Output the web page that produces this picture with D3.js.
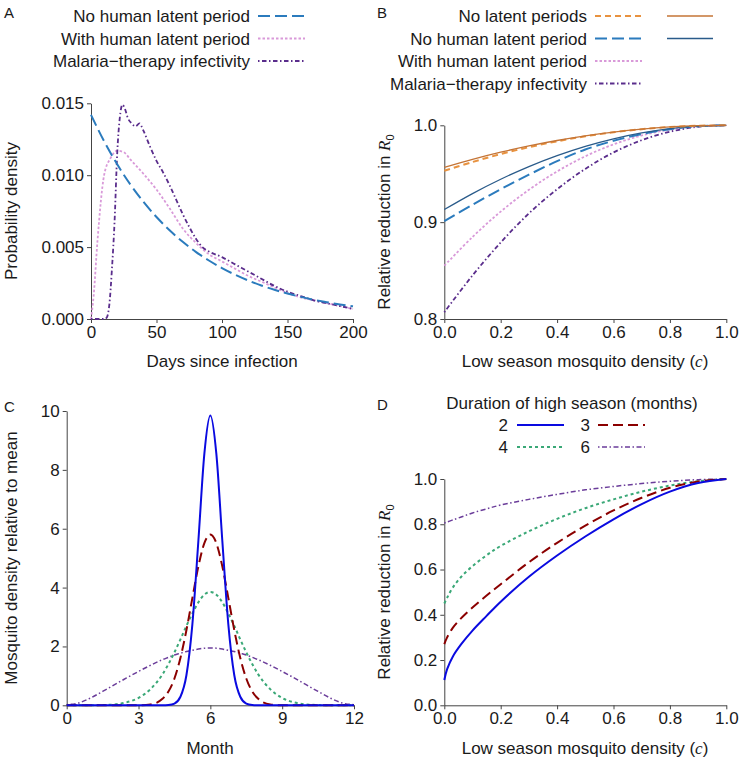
<!DOCTYPE html>
<html><head><meta charset="utf-8">
<script src="https://cdn.jsdelivr.net/npm/d3@7"></script>
<style>
body{margin:0;background:#fff}
svg{display:block}
text{font-family:"Liberation Sans",Arial,Helvetica,sans-serif;fill:#1a1a1a}
</style>
</head><body>
<svg id="chart" width="742" height="763"></svg>
<script>
// ---------- Panel A data ----------
const daysTicks = [0, 50, 100, 150, 200];
const densTicks = [0, 0.005, 0.010, 0.015];
const noLatDays = [0,10,20,30,40,50,60,70,80,90,100,110,120,130,140,150,160,170,180,190,200];
const noLatDens = [0.01420,0.01236,0.01076,0.00936,0.00815,0.00709,0.00617,0.00537,0.00467,0.00407,0.00354,0.00308,0.00268,0.00233,0.00203,0.00177,0.00154,0.00134,0.00117,0.00101,0.00088];
const withLatDays = [0,2,5,10,15,20,25,30,40,50,60,70,80,90,100,110,120,130,140,150,160,170,180,190,200];
const withLatDens = [0,0.0016,0.0055,0.0100,0.0112,0.0117,0.0116,0.0111,0.0101,0.0090,0.0077,0.0063,0.0053,0.0045,0.0040,0.0035,0.0030,0.0026,0.0022,0.0018,0.0015,0.0013,0.0011,0.0009,0.0007];
const malDays = [0,10,12,14,16,18,20,22,24,26,28,31,34,37,40,45,50,55,60,65,70,75,80,85,90,100,110,120,130,140,150,160,170,180,190,200];
const malDens = [0,0,0.0001,0.0010,0.0035,0.0068,0.0115,0.0140,0.0149,0.0146,0.0140,0.0136,0.0134,0.0136,0.0131,0.0120,0.0110,0.0102,0.0093,0.0083,0.0073,0.0064,0.0056,0.0050,0.0047,0.0043,0.0038,0.0033,0.0028,0.0023,0.0019,0.0016,0.0013,0.0011,0.0009,0.0007];

// ---------- Panel B data ----------
const cGrid = [0,0.1,0.2,0.3,0.4,0.5,0.6,0.7,0.8,0.9,1.0];
const cTicks = [0,0.2,0.4,0.6,0.8,1.0];
const bTicksY = [0.8,0.9,1.0];
const bNoLatDashed = [0.953,0.9621,0.9703,0.9774,0.9835,0.9886,0.9928,0.9960,0.9983,0.9996,1];
const bNoLatSolid  = [0.9565,0.9648,0.9722,0.9787,0.9843,0.9891,0.9930,0.9961,0.9983,0.9996,1];
const bNoHumDashed = [0.901,0.918,0.934,0.949,0.963,0.975,0.984,0.991,0.996,0.999,1];
const bNoHumSolid  = [0.913,0.9295,0.9443,0.9574,0.9687,0.9783,0.9861,0.9922,0.9965,0.9991,1];
const bWithLat     = [0.855,0.8847,0.9109,0.9334,0.9524,0.968,0.9803,0.9895,0.9957,0.999,1];
const bMalaria     = [0.807,0.845,0.879,0.909,0.934,0.955,0.972,0.9846,0.9934,0.9985,1];

// ---------- Panel C data ----------
const monthTicks = [0,3,6,9,12];
const mosqTicks = [0,2,4,6,8,10];
const months = [0,0.5,1,1.5,2,2.5,3,3.5,4,4.25,4.5,4.75,5,5.25,5.5,5.75,6,6.25,6.5,6.75,7,7.25,7.5,7.75,8,8.5,9,9.5,10,10.5,11,11.5,12];
const dens2 = [0,0,0,0,0,0,0,0,0,0.01,0.06,0.29,1.02,2.76,5.59,8.55,9.85,8.55,5.59,2.76,1.02,0.29,0.06,0.01,0,0,0,0,0,0,0,0,0];
const dens3 = [0,0,0,0,0,0,0,0.03,0.22,0.47,0.91,1.61,2.55,3.65,4.72,5.51,5.8,5.51,4.72,3.65,2.55,1.61,0.91,0.47,0.22,0.03,0,0,0,0,0,0,0];
const dens4 = [0,0,0,0.01,0.03,0.1,0.25,0.55,1.05,1.4,1.8,2.24,2.7,3.12,3.5,3.76,3.85,3.76,3.5,3.12,2.7,2.24,1.8,1.4,1.05,0.55,0.25,0.1,0.03,0.01,0,0,0];
const dens6 = [0.02,0.08,0.25,0.47,0.7,0.93,1.15,1.36,1.55,1.63,1.71,1.77,1.83,1.87,1.91,1.94,1.95,1.94,1.91,1.87,1.83,1.77,1.71,1.63,1.55,1.36,1.15,0.93,0.7,0.47,0.25,0.08,0.02];

// ---------- Panel D data ----------
const dGrid = [0,0.01,0.03,0.06,0.1,0.15,0.2,0.3,0.4,0.5,0.6,0.7,0.8,0.9,1.0];
const dTicksY = [0,0.2,0.4,0.6,0.8,1.0];
const red2 = [0.112,0.16,0.215,0.27,0.33,0.395,0.458,0.568,0.662,0.746,0.822,0.889,0.944,0.982,1.0];
const red3 = [0.27,0.3,0.342,0.385,0.432,0.485,0.535,0.632,0.718,0.794,0.861,0.917,0.961,0.989,1.0];
const red4 = [0.45,0.475,0.52,0.568,0.615,0.663,0.704,0.769,0.824,0.871,0.91,0.944,0.971,0.99,1.0];
const red6 = [0.805,0.81,0.819,0.832,0.85,0.868,0.885,0.91,0.932,0.952,0.967,0.98,0.99,0.997,1.0];
const seasonLabels = ["2","3","4","6"];

// ---------- styles ----------
const S = {
  noLat:   {stroke:"#2b7bbd", w:2,   dash:"12,5"},
  withLat: {stroke:"#d99ad9", w:1.8, dash:"2.5,2"},
  mal:     {stroke:"#5a2d8c", w:1.8, dash:"1.5,2.5,4.5,2.5"},
  orDash:  {stroke:"#e8923f", w:2,   dash:"6,4"},
  orSolid: {stroke:"#c47436", w:1.3, dash:null},
  blSolid: {stroke:"#2a5b8a", w:1.3, dash:null},
  s2: {stroke:"#0a0ae0", w:2,   dash:null},
  s3: {stroke:"#8b0000", w:2,   dash:"10,5"},
  s4: {stroke:"#3aa877", w:2,   dash:"3,3"},
  s6: {stroke:"#6b3d9a", w:1.5, dash:"1.5,2.5,5,2.5"}
};

const svg = d3.select("#chart");
const FS = 17;
const AX = "#444";

function styleAxis(g){
  g.select(".domain").attr("stroke", AX).attr("stroke-width", 1);
  g.selectAll(".tick line").attr("stroke", AX).attr("stroke-width", 1);
  g.selectAll(".tick text").attr("font-size", FS).attr("fill", "#1a1a1a")
    .attr("font-family", '"Liberation Sans",Arial,sans-serif');
}
function axes(x, y, xt, yt, xf, yf){
  const gx = svg.append("g").attr("transform", `translate(0,${y.range()[0]})`)
    .call(d3.axisBottom(x).tickValues(xt).tickFormat(xf).tickSize(4).tickSizeOuter(0).tickPadding(3));
  styleAxis(gx);
  const gy = svg.append("g").attr("transform", `translate(${x.range()[0]},0)`)
    .call(d3.axisLeft(y).tickValues(yt).tickFormat(yf).tickSize(4).tickSizeOuter(0).tickPadding(3));
  styleAxis(gy);
}
function drawLine(x, y, xs, ys, st, curve){
  const line = d3.line().x(d => x(d[0])).y(d => y(d[1])).curve(curve || d3.curveMonotoneX);
  const p = svg.append("path").datum(xs.map((v,i)=>[v, ys[i]]))
    .attr("d", line).attr("fill","none")
    .attr("stroke", st.stroke).attr("stroke-width", st.w)
    .attr("stroke-linejoin","round");
  if (st.dash) p.attr("stroke-dasharray", st.dash);
}
function legLine(x1, x2, yy, st){
  const l = svg.append("line").attr("x1",x1).attr("x2",x2).attr("y1",yy).attr("y2",yy)
    .attr("stroke", st.stroke).attr("stroke-width", st.w);
  if (st.dash) l.attr("stroke-dasharray", st.dash);
}
function txt(x, y, s, anchor){
  return svg.append("text").attr("x",x).attr("y",y).attr("font-size",FS)
    .attr("text-anchor", anchor || "start").text(s);
}
function panelLabel(x, y, s){
  svg.append("text").attr("x",x).attr("y",y).attr("font-size",15).text(s);
}
const smooth = d3.curveCatmullRom.alpha(0.5);

// ================= Panel A =================
const xA = d3.scaleLinear().domain([0,200]).range([91,353]);
const yA = d3.scaleLinear().domain([0,0.015]).range([319,103.3]);
axes(xA, yA, daysTicks, densTicks, d3.format("d"), d3.format(".3f"));
drawLine(xA, yA, withLatDays, withLatDens, S.withLat);
drawLine(xA, yA, malDays, malDens, S.mal);
drawLine(xA, yA, noLatDays, noLatDens, S.noLat);
panelLabel(4, 18, "A");
const legA = [["No human latent period", S.noLat], ["With human latent period", S.withLat], ["Malaria\u2212therapy infectivity", S.mal]];
legA.forEach((d,i) => {
  const by = 22 + i*22.5;
  txt(250, by, d[0], "end");
  legLine(258, 305, by-6, d[1]);
});
txt(222, 367, "Days since infection", "middle");
svg.append("text").attr("transform","translate(17,211) rotate(-90)")
  .attr("font-size",FS).attr("text-anchor","middle").text("Probability density");

// ================= Panel B =================
const xB = d3.scaleLinear().domain([0,1]).range([444.3,726.3]);
const yB = d3.scaleLinear().domain([0.8,1.0]).range([319,125.3]);
axes(xB, yB, cTicks, bTicksY, d3.format(".1f"), d3.format(".1f"));
drawLine(xB, yB, cGrid, bMalaria, S.mal, smooth);
drawLine(xB, yB, cGrid, bWithLat, S.withLat, smooth);
drawLine(xB, yB, cGrid, bNoHumDashed, S.noLat, smooth);
drawLine(xB, yB, cGrid, bNoHumSolid, S.blSolid, smooth);
drawLine(xB, yB, cGrid, bNoLatDashed, S.orDash, smooth);
drawLine(xB, yB, cGrid, bNoLatSolid, S.orSolid, smooth);
panelLabel(377, 18, "B");
const legB = [["No latent periods", S.orDash, S.orSolid], ["No human latent period", S.noLat, S.blSolid],
              ["With human latent period", S.withLat, null], ["Malaria\u2212therapy infectivity", S.mal, null]];
legB.forEach((d,i) => {
  const by = 22 + i*22.5;
  txt(587, by, d[0], "end");
  legLine(595, 642, by-6, d[1]);
  if (d[2]) legLine(667, 713, by-6, d[2]);
});
function cTitle(xc, yb){
  const t = svg.append("text").attr("x",xc).attr("y",yb).attr("font-size",FS).attr("text-anchor","middle");
  t.append("tspan").text("Low season mosquito density (");
  t.append("tspan").attr("font-family",'"Liberation Serif",serif').attr("font-style","italic").text("c");
  t.append("tspan").text(")");
}
function rTitle(xb, yc){
  const t = svg.append("text").attr("transform",`translate(${xb},${yc}) rotate(-90)`)
    .attr("font-size",FS).attr("text-anchor","middle");
  t.append("tspan").text("Relative reduction in ");
  t.append("tspan").attr("font-family",'"Liberation Serif",serif').attr("font-style","italic").text("R");
  t.append("tspan").attr("font-size",11).attr("dy",4).text("0");
}
cTitle(585, 367);
rTitle(390, 222);

// ================= Panel C =================
const xC = d3.scaleLinear().domain([0,12]).range([66.7,354]);
const yC = d3.scaleLinear().domain([0,10]).range([705.3,411]);
axes(xC, yC, monthTicks, mosqTicks, d3.format("d"), d3.format("d"));
drawLine(xC, yC, months, dens6, S.s6);
drawLine(xC, yC, months, dens4, S.s4);
drawLine(xC, yC, months, dens3, S.s3);
drawLine(xC, yC, months, dens2, S.s2);
panelLabel(4, 412, "C");
txt(210, 754, "Month", "middle");
svg.append("text").attr("transform","translate(17,558) rotate(-90)")
  .attr("font-size",FS).attr("text-anchor","middle").text("Mosquito density relative to mean");

// ================= Panel D =================
const xD = d3.scaleLinear().domain([0,1]).range([444.3,726.3]);
const yD = d3.scaleLinear().domain([0,1]).range([705.3,479]);
axes(xD, yD, cTicks, dTicksY, d3.format(".1f"), d3.format(".1f"));
drawLine(xD, yD, dGrid, red6, S.s6, smooth);
drawLine(xD, yD, dGrid, red4, S.s4, smooth);
drawLine(xD, yD, dGrid, red3, S.s3, smooth);
drawLine(xD, yD, dGrid, red2, S.s2, smooth);
panelLabel(377, 410, "D");
txt(572, 409, "Duration of high season (months)", "middle");
const legD = [[seasonLabels[0], S.s2, 508, 517, 431], [seasonLabels[1], S.s3, 590, 598, 431],
              [seasonLabels[2], S.s4, 508, 517, 453], [seasonLabels[3], S.s6, 590, 598, 453]];
legD.forEach(d => {
  txt(d[2], d[4], d[0], "end");
  legLine(d[3], d[3]+47, d[4]-6, d[1]);
});
cTitle(585, 754);
rTitle(390, 592);
</script>
</body></html>
